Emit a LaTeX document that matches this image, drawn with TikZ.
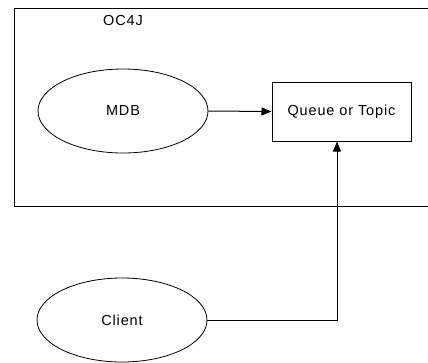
\documentclass[tikz,border=0pt]{standalone}
\usepackage{fontspec}
\setmainfont{Liberation Sans}[LetterSpace=6]
\usetikzlibrary{shapes.geometric,arrows.meta}
\begin{document}
\begin{tikzpicture}[x=1pt,y=-1pt,
  lbl/.style={font=\fontsize{14.5}{16}\selectfont},
  ell/.style={draw,ellipse,line width=0.8pt,minimum width=170pt,minimum height=84pt,inner sep=0pt,lbl},
  qbox/.style={draw,rectangle,line width=1pt,minimum width=139pt,minimum height=59pt,inner sep=0pt,lbl},
  conn/.style={line width=1pt,-{Triangle[length=10pt,width=8pt]}}]
\useasboundingbox (0,0) rectangle (428,362);
\clip (0,0) rectangle (428,362);
\node[draw,line width=1pt,minimum width=420pt,minimum height=198pt,inner sep=0pt,anchor=north west] (oc4j) at (14,8) {};
\node[lbl] (oc4jlbl) at (123,21) {OC4J};
\node[ell] (mdb) at (123,111) {MDB};
\node[qbox] (queue) at (341.5,111.5) {Queue or Topic};
\node[ell] (client) at (122,320) {Client};
\draw[conn] (mdb.east) -- (queue.west);
\draw[conn] (client.east) -| (queue.south -| 337,0);
\end{tikzpicture}
\end{document}
